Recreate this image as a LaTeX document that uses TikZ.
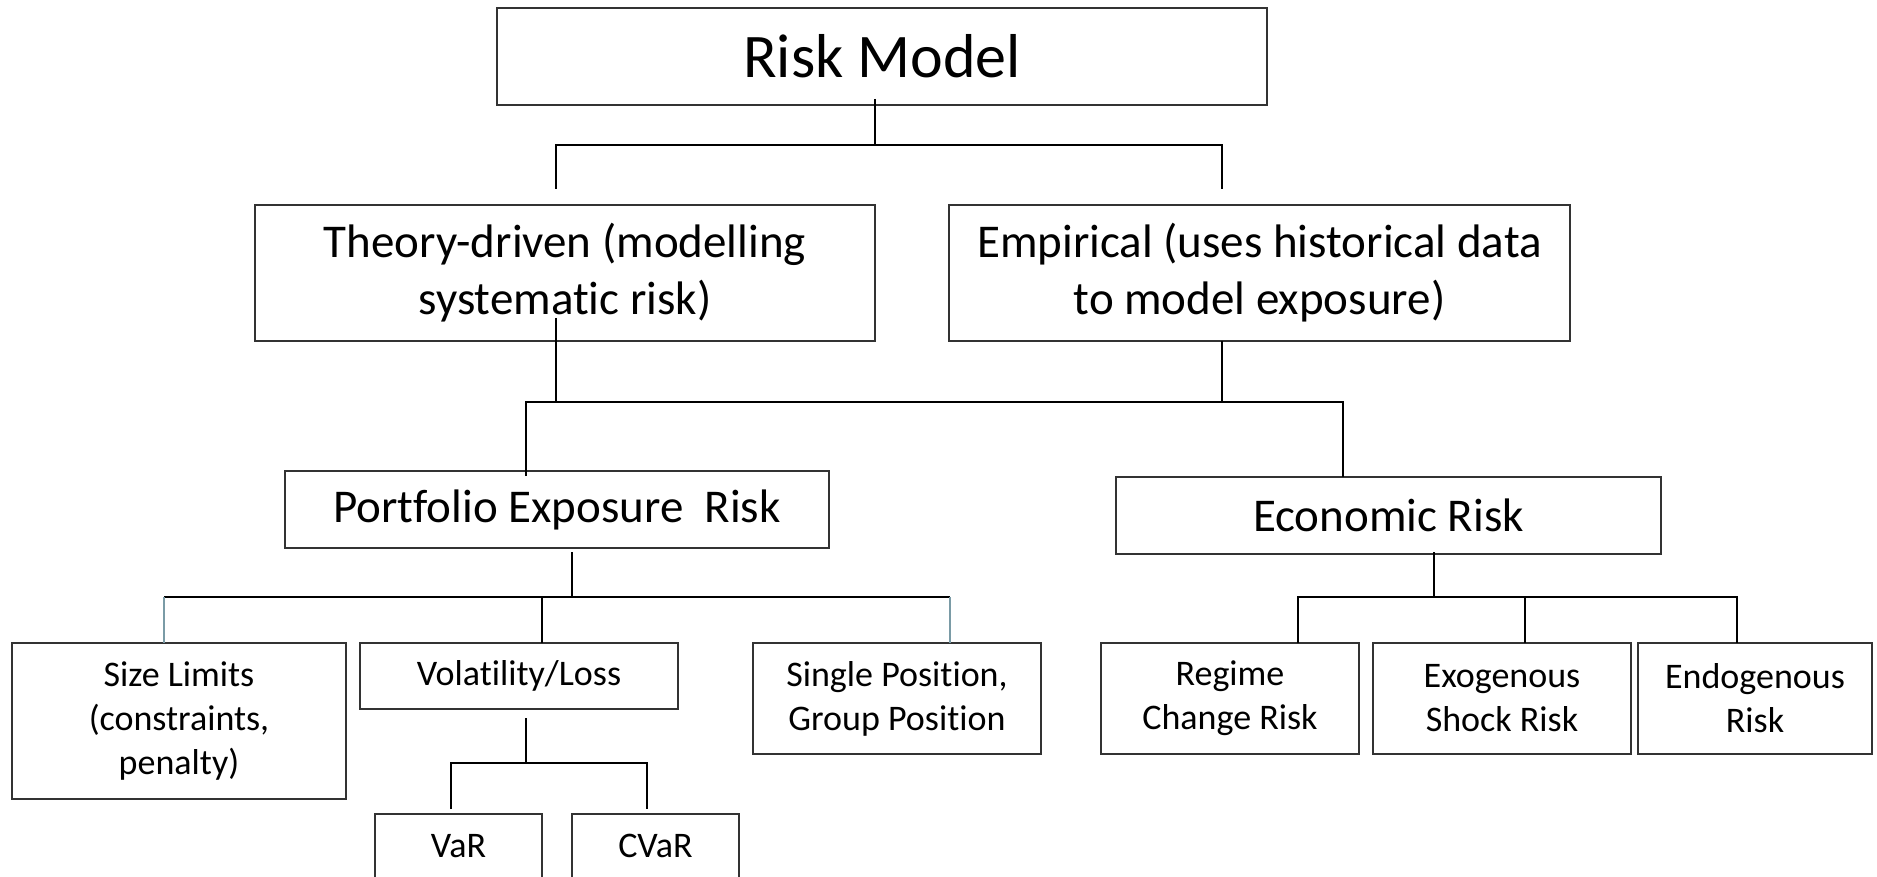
\documentclass[tikz,border=0pt]{standalone}
\usepackage{fontspec}
\setmainfont{Carlito}[Ligatures=NoCommon]
\definecolor{stub}{RGB}{122,155,166}
\begin{document}
\begin{tikzpicture}[x=1pt,y=-1pt,
  box/.style={draw=black!80,line width=1.5pt,inner sep=0pt,align=center,
              minimum width=#1},
  big/.style={font=\fontsize{62}{74}\selectfont},
  mid/.style={font=\fontsize{47}{57}\selectfont},
  small/.style={font=\fontsize{36}{44}\selectfont},
  wire/.style={line width=2pt,black},
  thinwire/.style={line width=1.4pt,black},
  bluewire/.style={line width=2pt,stub}]
\useasboundingbox (0,0) rectangle (1877,877);
\fill[white] (0,0) rectangle (1877,877);
\clip (0,0) rectangle (1877,877);

% boxes
\node[box=770pt,minimum height=97pt,big]  (rm)  at (882,56.5)  {Risk Model};
\node[box=620pt,minimum height=136pt,mid] (th)  at (565,273)   {Theory-driven (modelling\\systematic risk)};
\node[box=621pt,minimum height=136pt,mid] (em)  at (1259.5,273){Empirical (uses historical data\\to model exposure)};
\node[box=544pt,minimum height=77pt,mid]  (pe)  at (557,509.5) {Portfolio Exposure\ \ Risk};
\node[box=545pt,minimum height=77pt,mid]  (ec)  at (1388.5,515.5){Economic Risk};
\node[box=334pt,minimum height=156pt,small] (sl) at (179,721)  {Size Limits\\(constraints,\\penalty)};
\node[box=318pt,minimum height=66pt,small]  (vl) at (519,676)  {Volatility/Loss};
\node[box=288pt,minimum height=111pt,small] (sp) at (897,698.5){Single Position,\\Group Position};
\node[box=167pt,minimum height=64pt,small]  (va) at (458.5,846){VaR};
\node[box=167pt,minimum height=64pt,small]  (cv) at (655.5,846){CVaR};
\node[box=258pt,minimum height=111pt,small] (rg) at (1230,698.5){Regime\\Change Risk};
\node[box=258pt,minimum height=111pt,small] (ex) at (1502,698.5){Exogenous\\Shock Risk};
\node[box=234pt,minimum height=111pt,small] (en) at (1755,698.5){Endogenous\\Risk};

% junction points
\coordinate (rmS) at (875,99);
\coordinate (jTop) at (875,145);
\coordinate (thT) at (556,189);
\coordinate (emT) at (1222,189);
\coordinate (thS) at (556,318);
\coordinate (emS) at (1222,341);
\coordinate (jMid) at (556,402);
\coordinate (jMidR) at (1222,402);
\coordinate (peT) at (526,476);
\coordinate (ecT) at (1343,477);
\coordinate (peS) at (572,552);
\coordinate (jPe) at (572,597);
\coordinate (slT) at (164,643);
\coordinate (vlT) at (542,643);
\coordinate (spT) at (950,643);
\coordinate (vlS) at (526,718);
\coordinate (jVl) at (526,763);
\coordinate (vaT) at (451,809);
\coordinate (cvT) at (647,809);
\coordinate (ecS) at (1434,552);
\coordinate (jEc) at (1434,597);
\coordinate (rgT) at (1298,643);
\coordinate (exT) at (1525,643);
\coordinate (enT) at (1737,643);

% first level
\draw[thinwire] (rmS) -- (jTop);
\draw[wire] (thT) |- (jTop) -| (emT);

% second level
\draw[thinwire] (thS) -- (jMid);
\draw[wire] (emS) -- (jMidR);
\draw[wire] (peT) |- (jMid) -| (ecT);

% portfolio exposure branches
\draw[thinwire] (peS) -- (jPe);
\draw[wire] (slT |- jPe) -- (spT |- jPe);
\draw[wire] (vlT |- jPe) -- (vlT);
\draw[bluewire] (slT |- jPe) -- (slT);
\draw[bluewire] (spT |- jPe) -- (spT);

% volatility branches
\draw[wire] (vlS) -- (jVl);
\draw[wire] (vaT) |- (jVl) -| (cvT);

% economic risk branches
\draw[thinwire] (ecS) -- (jEc);
\draw[wire] (rgT) |- (jEc) -| (enT);
\draw[wire] (exT |- jEc) -- (exT);
\end{tikzpicture}
\end{document}
